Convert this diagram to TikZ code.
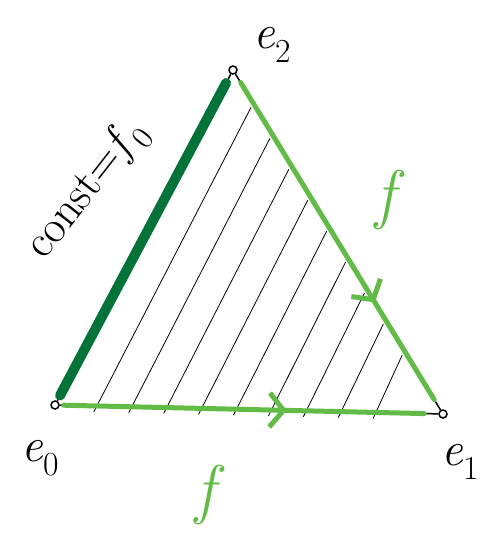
\documentclass[tikz,border=0pt]{standalone}
\usepackage{tikz}
\usetikzlibrary{arrows.meta,calc,decorations.markings,positioning}
\definecolor{DarkLeaf}{HTML}{03733A}
\definecolor{LightLeaf}{HTML}{62BB46}

\begin{document}
\begin{tikzpicture}[x=1pt,y=-1pt,
  vdot/.style={draw,circle,line width=1.5pt,inner sep=0pt,minimum size=8pt},
  vlabel/.style={font=\fontsize{48}{48}\selectfont},
  flabel/.style={text=LightLeaf,font=\fontsize{66}{66}\selectfont\itshape},
  hatch/.style={line width=0.8pt},
  fedge/.style={LightLeaf,line width=5pt,line cap=round,postaction={decorate},
    decoration={markings,mark=at position #1 with {\arrow{Straight Barb[length=14pt,width=34pt,line width=5pt]}}}}]
  \useasboundingbox (0,0) rectangle (488,539);
  % corners of the simplex
  \node[vdot] (e0) at (55,405) {};
  \node[vdot] (e1) at (443,414) {};
  \node[vdot] (e2) at (233,70) {};
  \draw[line width=1.5pt] (e0) -- (e1) -- (e2) -- (e0);
  % hatching parallel to e0--e2
  \foreach \t in {0.1,0.19,...,0.9}
    \draw[hatch] ($(e0.center)!\t!(e1.center)+(0,6)$) -- ($(e2.center)!\t!(e1.center)+(-3,3)$);
  % edges
  \draw[DarkLeaf,line width=10pt,line cap=round,shorten <=6pt,shorten >=10pt] (e0) -- (e2);
  \draw[fedge=0.68,shorten <=10pt,shorten >=12pt] (e2) -- (e1);
  \draw[fedge=0.6,shorten <=4pt,shorten >=14pt] (e0) -- (e1);
  % labels
  \node[vlabel] (l0) at (40,458) {\textit{e}\textsubscript{0}};
  \node[vlabel] (l1) at (460,462) {\textit{e}\textsubscript{1}};
  \node[vlabel] (l2) at (272,45) {\textit{e}\textsubscript{2}};
  \node[vlabel,font=\fontsize{46}{46}\selectfont,rotate=52] (cst) at (88,190) {const=\textit{f}\textsubscript{0}};
  \node[flabel] (fr) at (385,200) {f};
  \node[flabel] (fb) at (205,495) {f};
\end{tikzpicture}
\end{document}
